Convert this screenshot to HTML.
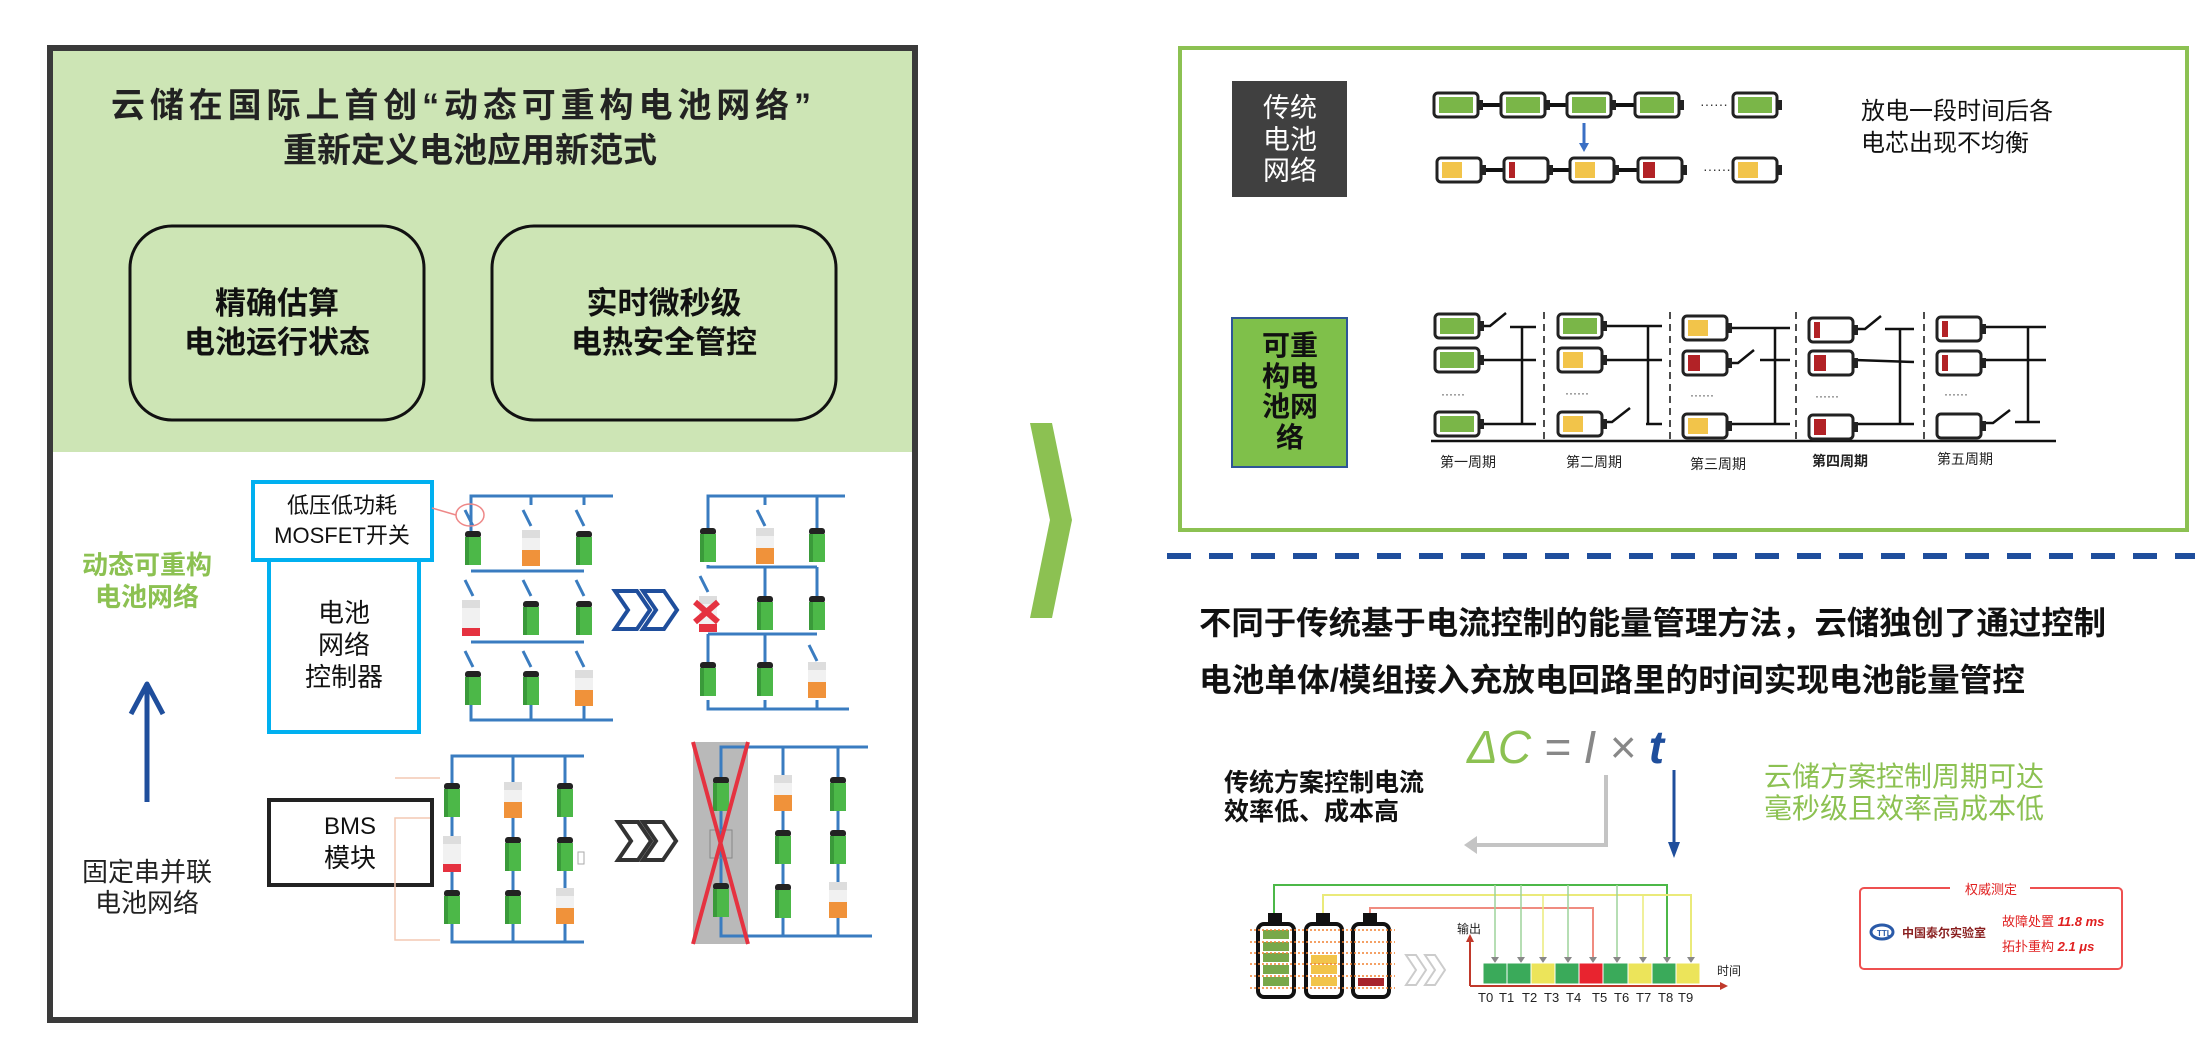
<!DOCTYPE html>
<html><head><meta charset="utf-8"><style>
html,body{margin:0;padding:0;background:#fff;}
svg{display:block;}
text{font-family:"Liberation Sans","Noto Sans CJK SC",sans-serif;}
</style></head><body>
<svg width="2200" height="1044" viewBox="0 0 2200 1044" xmlns="http://www.w3.org/2000/svg">
<defs>
  <g id="vg"><rect x="-8" y="0" width="16" height="7" rx="3" fill="#222"/><rect x="-8" y="6" width="16" height="28" fill="#4cb848"/><rect x="-8" y="6" width="4" height="28" fill="#3a9a3a"/></g>
  <g id="vo"><rect x="-9" y="0" width="18" height="8" fill="#ddd"/><rect x="-9" y="8" width="18" height="12" fill="#f1f1f1"/><rect x="-9" y="20" width="18" height="16" fill="#f0923a"/></g>
  <g id="vr"><rect x="-9" y="0" width="18" height="8" fill="#ddd"/><rect x="-9" y="8" width="18" height="22" fill="#f1f1f1"/><rect x="-9" y="28" width="18" height="8" fill="#e53240"/></g>
  <g id="hg"><rect x="1" y="1" width="44" height="24" rx="4" fill="#fff" stroke="#222" stroke-width="3"/><rect x="45" y="8" width="5" height="10" fill="#222"/><rect x="6" y="5" width="34" height="16" fill="#7ab648"/></g>
  <g id="hy"><rect x="1" y="1" width="44" height="24" rx="4" fill="#fff" stroke="#222" stroke-width="3"/><rect x="45" y="8" width="5" height="10" fill="#222"/><rect x="6" y="5" width="20" height="16" fill="#f2c44a"/></g>
  <g id="hr1"><rect x="1" y="1" width="44" height="24" rx="4" fill="#fff" stroke="#222" stroke-width="3"/><rect x="45" y="8" width="5" height="10" fill="#222"/><rect x="6" y="5" width="6" height="16" fill="#b22226"/></g>
  <g id="hr2"><rect x="1" y="1" width="44" height="24" rx="4" fill="#fff" stroke="#222" stroke-width="3"/><rect x="45" y="8" width="5" height="10" fill="#222"/><rect x="6" y="5" width="12" height="16" fill="#b22226"/></g>
  <g id="he"><rect x="1" y="1" width="44" height="24" rx="4" fill="#fff" stroke="#222" stroke-width="3"/><rect x="45" y="8" width="5" height="10" fill="#222"/></g>
</defs>

<!-- LEFT PANEL -->
<rect x="50" y="48" width="865" height="972" fill="#fff" stroke="#3a3a3a" stroke-width="6"/>
<rect x="53" y="51" width="859" height="401" fill="#cde5b5"/>
<text x="461" y="117" font-size="34" text-anchor="middle" fill="#222" font-weight="bold" textLength="700">云储在国际上首创“动态可重构电池网络”</text>
<text x="470" y="162" font-size="34" text-anchor="middle" fill="#222" font-weight="bold">重新定义电池应用新范式</text>
<rect x="130" y="226" width="294" height="194" rx="42" fill="none" stroke="#111" stroke-width="3"/>
<rect x="492" y="226" width="344" height="194" rx="42" fill="none" stroke="#111" stroke-width="3"/>
<text x="277" y="314" font-size="31" text-anchor="middle" font-weight="bold" fill="#111">精确估算</text>
<text x="277" y="353" font-size="31" text-anchor="middle" font-weight="bold" fill="#111">电池运行状态</text>
<text x="664" y="314" font-size="31" text-anchor="middle" font-weight="bold" fill="#111">实时微秒级</text>
<text x="664" y="353" font-size="31" text-anchor="middle" font-weight="bold" fill="#111">电热安全管控</text>

<text x="147" y="574" font-size="26" text-anchor="middle" fill="#8cc152" font-weight="bold">动态可重构</text>
<text x="147" y="606" font-size="26" text-anchor="middle" fill="#8cc152" font-weight="bold">电池网络</text>
<line x1="147" y1="685" x2="147" y2="802" stroke="#1f4e9c" stroke-width="5"/>
<polyline points="131,714 147,684 163,714" fill="none" stroke="#1f4e9c" stroke-width="5" stroke-linejoin="round"/>
<text x="147" y="881" font-size="26" text-anchor="middle" fill="#222">固定串并联</text>
<text x="147" y="912" font-size="26" text-anchor="middle" fill="#222">电池网络</text>

<rect x="269" y="560" width="150" height="172" fill="#fff" stroke="#00b0f0" stroke-width="4"/>
<rect x="253" y="482" width="179" height="78" fill="#fff" stroke="#00b0f0" stroke-width="4"/>
<text x="342" y="513" font-size="22" text-anchor="middle" fill="#111">低压低功耗</text>
<text x="342" y="543" font-size="22" text-anchor="middle" fill="#111">MOSFET开关</text>
<text x="344" y="622" font-size="26" text-anchor="middle" fill="#111">电池</text>
<text x="344" y="654" font-size="26" text-anchor="middle" fill="#111">网络</text>
<text x="344" y="686" font-size="26" text-anchor="middle" fill="#111">控制器</text>
<rect x="269" y="800" width="163" height="85" fill="#fff" stroke="#222" stroke-width="4"/>
<text x="350" y="834" font-size="24" text-anchor="middle" fill="#111">BMS</text>
<text x="350" y="867" font-size="26" text-anchor="middle" fill="#111">模块</text>

<!-- circuit 1 -->
<g stroke="#3a7cc0" stroke-width="3" fill="none">
<polyline points="613,496 471,496 471,536"/><line x1="531" y1="496" x2="531" y2="505"/><line x1="584" y1="496" x2="584" y2="505"/>
<line x1="471" y1="571" x2="584" y2="571"/><line x1="471" y1="642" x2="584" y2="642"/>
<polyline points="471,703 471,720 613,720"/><line x1="531" y1="703" x2="531" y2="720"/><line x1="584" y1="703" x2="584" y2="720"/>
<g stroke="#3a7cc0"><line x1="465" y1="510" x2="473" y2="526"/><line x1="523" y1="510" x2="531" y2="526"/><line x1="576" y1="510" x2="584" y2="526"/>
<line x1="465" y1="580" x2="473" y2="596"/><line x1="523" y1="580" x2="531" y2="596"/><line x1="576" y1="580" x2="584" y2="596"/>
<line x1="465" y1="651" x2="473" y2="667"/><line x1="523" y1="651" x2="531" y2="667"/><line x1="576" y1="651" x2="584" y2="667"/></g>
</g>
<ellipse cx="470" cy="515" rx="14" ry="11" fill="none" stroke="#e88" stroke-width="1.5"/>
<line x1="432" y1="508" x2="456" y2="515" stroke="#e88" stroke-width="1.5"/>
<use href="#vg" x="473" y="531"/><use href="#vo" x="531" y="530"/><use href="#vg" x="584" y="531"/>
<use href="#vr" x="471" y="600"/><use href="#vg" x="531" y="601"/><use href="#vg" x="584" y="601"/>
<use href="#vg" x="473" y="671"/><use href="#vg" x="531" y="671"/><use href="#vo" x="584" y="670"/>

<!-- blue chevrons -->
<g fill="none" stroke="#1f4e9c" stroke-width="4" stroke-linejoin="miter">
<polygon points="615,591 637,591 650,610 637,629 615,629 628,610"/>
<polygon points="643,591 664,591 677,610 664,629 643,629 656,610"/>
</g>

<!-- circuit 2 -->
<g stroke="#3a7cc0" stroke-width="3" fill="none">
<polyline points="845,496 708,496 708,530"/><line x1="765" y1="496" x2="765" y2="505"/><polyline points="817,496 817,530"/>
<polyline points="708,565 708,567 817,567"/><line x1="765" y1="567" x2="765" y2="600"/><line x1="817" y1="567" x2="817" y2="600"/>
<line x1="708" y1="634" x2="817" y2="634"/><line x1="708" y1="634" x2="708" y2="664"/><line x1="765" y1="634" x2="765" y2="664"/>
<polyline points="708,700 708,709 849,709"/><line x1="765" y1="700" x2="765" y2="709"/><line x1="817" y1="700" x2="817" y2="709"/>
<line x1="757" y1="510" x2="765" y2="526"/><line x1="700" y1="576" x2="708" y2="592"/><line x1="809" y1="645" x2="817" y2="661"/>
</g>
<use href="#vg" x="708" y="528"/><use href="#vo" x="765" y="528"/><use href="#vg" x="817" y="528"/>
<use href="#vr" x="708" y="596"/><use href="#vg" x="765" y="596"/><use href="#vg" x="817" y="596"/>
<use href="#vg" x="708" y="662"/><use href="#vg" x="765" y="662"/><use href="#vo" x="817" y="662"/>
<g stroke="#e53240" stroke-width="6"><line x1="695" y1="602" x2="718" y2="622"/><line x1="718" y1="602" x2="695" y2="622"/></g>

<!-- circuit 3 BMS -->
<g stroke="#3a7cc0" stroke-width="3" fill="none">
<polyline points="584,756 452,756 452,942 584,942"/><line x1="513" y1="756" x2="513" y2="942"/><line x1="565" y1="756" x2="565" y2="942"/>
</g>
<g stroke="#f4c9b4" stroke-width="1.5" fill="none"><polyline points="430,818 395,818 395,940 440,940"/><line x1="395" y1="778" x2="440" y2="778"/></g>
<use href="#vg" x="452" y="783"/><use href="#vo" x="513" y="782"/><use href="#vg" x="565" y="783"/>
<use href="#vr" x="452" y="836"/><use href="#vg" x="513" y="837"/><use href="#vg" x="565" y="837"/>
<use href="#vg" x="452" y="890"/><use href="#vg" x="513" y="890"/><use href="#vo" x="565" y="888"/>
<rect x="578" y="852" width="6" height="12" fill="#fff" stroke="#aaa"/>

<!-- gray chevrons -->
<g fill="none" stroke="#333" stroke-width="4">
<polygon points="618,822 638,822 651,841 638,860 618,860 631,841"/>
<polygon points="643,822 663,822 676,841 663,860 643,860 656,841"/>
</g>

<!-- circuit 4 -->
<rect x="693" y="742" width="55" height="202" fill="#b9b9b9"/>
<g stroke="#3a7cc0" stroke-width="3" fill="none">
<polyline points="868,747 721,747 721,936 872,936"/><line x1="783" y1="747" x2="783" y2="936"/><line x1="838" y1="747" x2="838" y2="936"/>
</g>
<use href="#vg" x="721" y="777"/><use href="#vg" x="721" y="883"/>
<rect x="710" y="830" width="22" height="28" fill="none" stroke="#888"/>
<use href="#vo" x="783" y="775"/><use href="#vg" x="838" y="777"/>
<use href="#vg" x="783" y="830"/><use href="#vg" x="838" y="830"/>
<use href="#vg" x="783" y="884"/><use href="#vo" x="838" y="882"/>
<g stroke="#e53240" stroke-width="4"><line x1="693" y1="742" x2="748" y2="944"/><line x1="748" y1="742" x2="693" y2="944"/></g>

<!-- green chevron -->
<polygon points="1030,423 1052,423 1072,520 1052,618 1030,618 1050,520" fill="#8cc152"/>

<!-- RIGHT TOP PANEL -->
<rect x="1180" y="48" width="1007" height="482" fill="#fff" stroke="#8cc152" stroke-width="4"/>
<rect x="1232" y="81" width="115" height="116" fill="#404040"/>
<text x="1290" y="117" font-size="27" fill="#fff" text-anchor="middle">传统</text>
<text x="1290" y="149" font-size="27" fill="#fff" text-anchor="middle">电池</text>
<text x="1290" y="180" font-size="27" fill="#fff" text-anchor="middle">网络</text>
<rect x="1232" y="318" width="115" height="149" fill="#7fc04a" stroke="#2f5597" stroke-width="2"/>
<text x="1290" y="355" font-size="28" font-weight="bold" text-anchor="middle" fill="#111">可重</text>
<text x="1290" y="386" font-size="28" font-weight="bold" text-anchor="middle" fill="#111">构电</text>
<text x="1290" y="416" font-size="28" font-weight="bold" text-anchor="middle" fill="#111">池网</text>
<text x="1290" y="447" font-size="28" font-weight="bold" text-anchor="middle" fill="#111">络</text>

<!-- series batteries -->
<g stroke="#111" stroke-width="4"><line x1="1480" y1="105" x2="1502" y2="105"/><line x1="1548" y1="105" x2="1568" y2="105"/><line x1="1614" y1="105" x2="1636" y2="105"/>
<line x1="1482" y1="170" x2="1505" y2="170"/><line x1="1550" y1="170" x2="1571" y2="170"/><line x1="1616" y1="170" x2="1639" y2="170"/></g>
<use href="#hg" x="1433" y="92"/><use href="#hg" x="1500" y="92"/><use href="#hg" x="1566" y="92"/><use href="#hg" x="1634" y="92"/><use href="#hg" x="1732" y="92"/>
<text x="1700" y="109" font-size="14" fill="#333">······</text>
<use href="#hy" x="1436" y="157"/><use href="#hr1" x="1503" y="157"/><use href="#hy" x="1569" y="157"/><use href="#hr2" x="1637" y="157"/><use href="#hy" x="1732" y="157"/>
<text x="1703" y="174" font-size="14" fill="#333">······</text>
<line x1="1584" y1="123" x2="1584" y2="145" stroke="#3a6fc4" stroke-width="3"/>
<polygon points="1579,143 1589,143 1584,152" fill="#3a6fc4"/>
<text x="1861" y="119" font-size="24" fill="#111">放电一段时间后各</text>
<text x="1861" y="151" font-size="24" fill="#111">电芯出现不均衡</text>

<!-- reconfig grid -->
<g stroke="#111" stroke-width="2.5" fill="none">
<line x1="1431" y1="441" x2="2056" y2="441"/>
</g>
<g stroke="#111" stroke-width="1.5" stroke-dasharray="7,5"><line x1="1544" y1="312" x2="1544" y2="440"/><line x1="1670" y1="312" x2="1670" y2="440"/><line x1="1796" y1="312" x2="1796" y2="440"/><line x1="1924" y1="312" x2="1924" y2="440"/></g>
<g stroke="#111" stroke-width="2.5" fill="none">
<!-- col1 -->
<polyline points="1480,326 1490,326 1506,313"/><line x1="1510" y1="327" x2="1536" y2="327"/><line x1="1480" y1="360" x2="1536" y2="360"/><line x1="1480" y1="424" x2="1536" y2="424"/><line x1="1522" y1="327" x2="1522" y2="424"/>
<!-- col2 -->
<line x1="1603" y1="326" x2="1662" y2="326"/><line x1="1603" y1="360" x2="1662" y2="360"/><polyline points="1603,422 1612,422 1630,408"/><line x1="1646" y1="424" x2="1662" y2="424"/><line x1="1648" y1="326" x2="1648" y2="424"/>
<!-- col3 -->
<line x1="1728" y1="328" x2="1790" y2="328"/><polyline points="1728,363 1738,363 1754,350"/><line x1="1760" y1="360" x2="1790" y2="360"/><line x1="1728" y1="424" x2="1790" y2="424"/><line x1="1775" y1="328" x2="1775" y2="424"/>
<!-- col4 -->
<polyline points="1855,329 1865,329 1881,316"/><line x1="1885" y1="329" x2="1914" y2="329"/><line x1="1855" y1="360" x2="1914" y2="362"/><line x1="1855" y1="424" x2="1914" y2="424"/><line x1="1900" y1="329" x2="1900" y2="424"/>
<!-- col5 -->
<line x1="1983" y1="327" x2="2046" y2="327"/><line x1="1983" y1="360" x2="2046" y2="360"/><polyline points="1983,423 1993,423 2010,410"/><line x1="2015" y1="422" x2="2040" y2="422"/><line x1="2028" y1="327" x2="2028" y2="422"/>
</g>
<use href="#hg" x="1434" y="313"/><use href="#hg" x="1434" y="347"/><use href="#hg" x="1434" y="411"/>
<use href="#hg" x="1557" y="313"/><use href="#hy" x="1557" y="347"/><use href="#hy" x="1557" y="411"/>
<use href="#hy" x="1682" y="315"/><use href="#hr2" x="1682" y="350"/><use href="#hy" x="1682" y="413"/>
<use href="#hr1" x="1808" y="317"/><use href="#hr2" x="1808" y="350"/><use href="#hr2" x="1808" y="414"/>
<use href="#hr1" x="1936" y="316"/><use href="#hr1" x="1936" y="350"/><use href="#he" x="1936" y="413"/>
<g font-size="12" fill="#333"><text x="1441" y="398">······</text><text x="1565" y="397">······</text><text x="1690" y="399">······</text><text x="1815" y="400">······</text><text x="1944" y="398">······</text></g>
<g font-size="14" fill="#222"><text x="1440" y="467">第一周期</text><text x="1566" y="467">第二周期</text><text x="1690" y="469">第三周期</text><text x="1812" y="466" font-weight="bold">第四周期</text><text x="1937" y="464">第五周期</text></g>

<!-- dashed separator -->
<line x1="1167" y1="556" x2="2195" y2="556" stroke="#1f4e9c" stroke-width="6" stroke-dasharray="24,18"/>

<!-- text block -->
<text x="1199" y="634" font-size="32" font-weight="bold" fill="#111" textLength="907" lengthAdjust="spacingAndGlyphs">不同于传统基于电流控制的能量管理方法，云储独创了通过控制</text>
<text x="1199" y="691" font-size="32" font-weight="bold" fill="#111" textLength="826" lengthAdjust="spacingAndGlyphs">电池单体/模组接入充放电回路里的时间实现电池能量管控</text>

<text x="1467" y="763" font-size="46" font-style="italic" font-family="Liberation Serif, serif"><tspan fill="#8cc152">ΔC</tspan><tspan fill="#888"> = </tspan><tspan fill="#888">I</tspan><tspan fill="#888"> × </tspan><tspan fill="#1f4e9c" font-weight="bold">t</tspan></text>
<text x="1224" y="791" font-size="25" fill="#111" font-weight="bold">传统方案控制电流</text>
<text x="1224" y="820" font-size="25" fill="#111" font-weight="bold">效率低、成本高</text>
<text x="1764" y="786" font-size="28" fill="#8cc152">云储方案控制周期可达</text>
<text x="1764" y="818" font-size="28" fill="#8cc152">毫秒级且效率高成本低</text>
<polyline points="1606,775 1606,845 1474,845" fill="none" stroke="#c4c4c4" stroke-width="4"/>
<polygon points="1464,845 1477,836 1477,854" fill="#c4c4c4"/>
<line x1="1674" y1="770" x2="1674" y2="845" stroke="#1f4e9c" stroke-width="3"/>
<polygon points="1668,842 1680,842 1674,858" fill="#1f4e9c"/>

<!-- bottom figure -->
<g fill="none" stroke-width="2">
<polyline points="1274,918 1274,885 1667,885 1667,960" stroke="#4cb848"/>
<polyline points="1323,918 1323,895 1691,895 1691,960" stroke="#eaea7a"/>
<polyline points="1370,918 1370,908 1593,908 1593,960" stroke="#f08c80"/>
<g stroke="#9ed29a" stroke-width="1.5"><line x1="1495" y1="885" x2="1495" y2="960"/><line x1="1521" y1="885" x2="1521" y2="960"/><line x1="1568" y1="885" x2="1568" y2="960"/><line x1="1617" y1="885" x2="1617" y2="960"/></g>
<g stroke="#eaea7a" stroke-width="1.5"><line x1="1543" y1="895" x2="1543" y2="960"/><line x1="1643" y1="895" x2="1643" y2="960"/></g>
</g>
<g stroke="#111" stroke-width="4" fill="#fff">
<rect x="1258" y="924" width="36" height="73" rx="6"/><rect x="1306" y="924" width="36" height="73" rx="6"/><rect x="1353" y="924" width="36" height="73" rx="6"/>
</g>
<rect x="1268" y="913" width="14" height="11" fill="#111"/><rect x="1316" y="913" width="14" height="11" fill="#111"/><rect x="1363" y="913" width="14" height="11" fill="#111"/>
<g fill="#78a84a"><rect x="1263" y="930" width="26" height="9"/><rect x="1263" y="942" width="26" height="9"/><rect x="1263" y="953" width="26" height="9"/><rect x="1263" y="965" width="26" height="9"/><rect x="1263" y="977" width="26" height="9"/></g>
<g fill="#f2c44a"><rect x="1311" y="955" width="26" height="9"/><rect x="1311" y="965" width="26" height="9"/><rect x="1311" y="977" width="26" height="9"/></g>
<rect x="1358" y="978" width="26" height="8" fill="#a8232a"/>
<g stroke="#f08030" stroke-width="1.5" stroke-dasharray="2,2"><line x1="1250" y1="930" x2="1395" y2="930"/><line x1="1250" y1="942" x2="1395" y2="942"/><line x1="1250" y1="953" x2="1395" y2="953"/><line x1="1250" y1="964" x2="1395" y2="964"/><line x1="1250" y1="976" x2="1395" y2="976"/><line x1="1250" y1="988" x2="1395" y2="988"/></g>
<g fill="none" stroke="#ccc" stroke-width="2"><polygon points="1406,955 1416,955 1426,970 1416,985 1406,985 1416,970"/><polygon points="1425,955 1435,955 1445,970 1435,985 1425,985 1435,970"/></g>
<g fill="#888"><polygon points="1491,957 1499,957 1495,963"/><polygon points="1517,957 1525,957 1521,963"/><polygon points="1539,957 1547,957 1543,963"/><polygon points="1564,957 1572,957 1568,963"/><polygon points="1589,957 1597,957 1593,963"/><polygon points="1613,957 1621,957 1617,963"/><polygon points="1639,957 1647,957 1643,963"/><polygon points="1663,957 1671,957 1667,963"/><polygon points="1687,957 1695,957 1691,963"/></g>
<line x1="1470" y1="986" x2="1470" y2="940" stroke="#c0392b" stroke-width="2"/><polygon points="1466,942 1474,942 1470,934" fill="#c0392b"/>
<line x1="1470" y1="986" x2="1722" y2="986" stroke="#c0392b" stroke-width="2"/><polygon points="1720,982 1728,986 1720,990" fill="#c0392b"/>
<g stroke="#fff" stroke-width="1">
<rect x="1483" y="963" width="24" height="21" fill="#3aaa5a"/><rect x="1507" y="963" width="24" height="21" fill="#3aaa5a"/><rect x="1531" y="963" width="24" height="21" fill="#ece45a"/><rect x="1555" y="963" width="24" height="21" fill="#3aaa5a"/><rect x="1579" y="963" width="24" height="21" fill="#e8242f"/><rect x="1603" y="963" width="25" height="21" fill="#3aaa5a"/><rect x="1628" y="963" width="24" height="21" fill="#ece45a"/><rect x="1652" y="963" width="24" height="21" fill="#3aaa5a"/><rect x="1676" y="963" width="24" height="21" fill="#ece45a"/>
</g>
<text x="1457" y="933" font-size="12" fill="#222">输出</text>
<text x="1717" y="975" font-size="12" fill="#222">时间</text>
<g font-size="13" fill="#222" font-family="Liberation Serif, serif"><text x="1478" y="1002">T0</text><text x="1499" y="1002">T1</text><text x="1522" y="1002">T2</text><text x="1544" y="1002">T3</text><text x="1566" y="1002">T4</text><text x="1592" y="1002">T5</text><text x="1614" y="1002">T6</text><text x="1636" y="1002">T7</text><text x="1658" y="1002">T8</text><text x="1678" y="1002">T9</text></g>

<!-- red certification box -->
<rect x="1860" y="888" width="262" height="81" rx="4" fill="#fff" stroke="#ee5050" stroke-width="2"/>
<rect x="1950" y="880" width="80" height="16" fill="#fff"/>
<text x="1991" y="894" font-size="13" fill="#e02020" text-anchor="middle">权威测定</text>
<ellipse cx="1882" cy="932" rx="11" ry="7" fill="none" stroke="#2a5aa8" stroke-width="3"/>
<text x="1877" y="936" font-size="8" fill="#2a5aa8" font-weight="bold">TTL</text>
<text x="1902" y="937" font-size="12" fill="#8a2020" font-weight="bold">中国泰尔实验室</text>
<text x="2002" y="926" font-size="13" fill="#e02020">故障处置 <tspan font-style="italic" font-weight="bold">11.8 ms</tspan></text>
<text x="2002" y="951" font-size="13" fill="#e02020">拓扑重构 <tspan font-style="italic" font-weight="bold">2.1 μs</tspan></text>
</svg>
</body></html>
